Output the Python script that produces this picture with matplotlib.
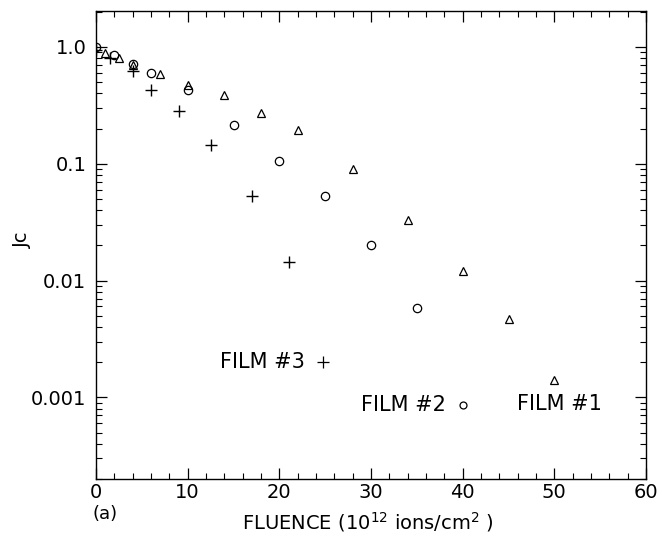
import matplotlib
matplotlib.use("Agg")
import matplotlib.pyplot as plt
import numpy as np
from matplotlib.ticker import FixedLocator, LogLocator, MultipleLocator, NullFormatter

plt.rcParams['font.family'] = ['DejaVu Sans']

# film 1 (triangles)
f1_x = [1, 2.5, 4, 7, 10, 14, 18, 22, 28, 34, 40, 45, 50]
f1_y = [0.88, 0.80, 0.70, 0.59, 0.47, 0.39, 0.27, 0.195, 0.091, 0.033, 0.012, 0.0047, 0.0014]
# film 2 (circles)
f2_x = [0, 2, 4, 6, 10, 15, 20, 25, 30, 35]
f2_y = [1.0, 0.85, 0.72, 0.60, 0.43, 0.215, 0.106, 0.053, 0.020, 0.0058]
# film 3 (plus)
f3_x = [0, 1.5, 4, 6, 9, 12.5, 17, 21]
f3_y = [0.95, 0.80, 0.62, 0.43, 0.28, 0.145, 0.053, 0.0145]

# key labels (text position, marker position)
key_text = ["FILM #3", "FILM #2", "FILM #1"]
key_text_x = [22.8, 38.2, 55.2]
key_text_y = [0.002, 0.00086, 0.00088]
key_mark = ["+", "o", None]
key_mark_x = [24.8, 40.0, None]

fig = plt.figure(figsize=(6.62, 5.37), dpi=100)
ax = fig.add_axes([96/662, 58/537, 550/662, 468/537])

ax.plot(f1_x, f1_y, "^", mfc="none", mec="black", ms=6, mew=0.9)
ax.plot(f2_x, f2_y, "o", mfc="none", mec="black", ms=6, mew=0.9)
ax.plot(f3_x, f3_y, "+", color="black", ms=8, mew=1.0)

for i in range(3):
    ax.text(key_text_x[i], key_text_y[i], key_text[i], ha="right", va="center", fontsize=15)
    if key_mark[i] is not None:
        ax.plot(key_mark_x[i], key_text_y[i], key_mark[i], mfc="none", mec="black",
                color="black", ms=5 if key_mark[i] == "o" else 8, mew=0.9)

ax.set_yscale("log")
ax.set_xlim(0, 60)
ax.set_ylim(2.0e-4, 2.03)

ax.xaxis.set_major_locator(MultipleLocator(10))
ax.xaxis.set_minor_locator(MultipleLocator(2))
ax.yaxis.set_major_locator(FixedLocator([0.001, 0.01, 0.1, 1.0]))
ax.set_yticklabels(["0.001", "0.01", "0.1", "1.0"])
ax.yaxis.set_minor_locator(LogLocator(base=10, subs=np.arange(2, 10)))
ax.yaxis.set_minor_formatter(NullFormatter())

ax.tick_params(which="both", direction="in", top=True, right=True, labelsize=14)
ax.tick_params(axis="x", pad=3)
ax.tick_params(axis="y", pad=7)
ax.tick_params(which="major", length=8, width=0.9)
ax.tick_params(which="minor", length=4, width=0.8)
for s in ax.spines.values():
    s.set_linewidth(1.0)

fig.text(368/662, 1 - 522/537, "FLUENCE (10$^{12}$ ions/cm$^{2}$ )", fontsize=14,
         ha="center", va="center")
fig.text(22/662, 1 - 240/537, "Jc", fontsize=14, rotation=90, ha="center", va="center")
fig.text(93/662, 1 - 514/537, "(a)", fontsize=13, ha="left", va="center")

fig.savefig("out.png", dpi=100)
